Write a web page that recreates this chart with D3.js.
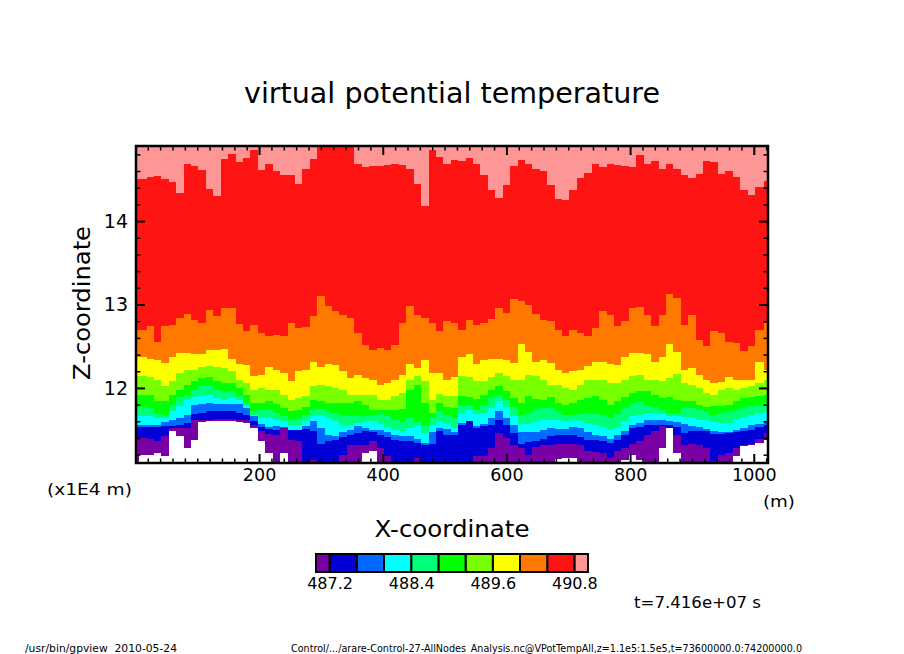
<!DOCTYPE html>
<html>
<head>
<meta charset="utf-8">
<title>virtual potential temperature</title>
<script src="https://cdn.jsdelivr.net/npm/d3@7"></script>
<style>
  html, body { margin: 0; background: #fff; }
  svg { display: block; }
  text { font-family: "DejaVu Sans", sans-serif; fill: #000; }
</style>
</head>
<body>
<svg id="chart"></svg>
<script>
// x position of each column (m)
const xColumns = [...d3.range(0, 1020, 12), 1024];

// height (x1E4 m) of each contour, one value per column
const z4908 = [
  14.51,14.51,14.53,14.54,14.51,14.47,14.34,14.68,14.66,14.61,
  14.39,14.30,14.75,14.81,14.71,14.76,14.85,14.61,14.68,14.60,
  14.55,14.55,14.45,14.63,14.74,14.90,14.95,14.95,14.95,14.95,
  14.69,14.65,14.66,14.66,14.67,14.69,14.67,14.63,14.45,14.18,
  14.85,14.77,14.69,14.73,14.72,14.76,14.69,14.55,14.37,14.28,
  14.43,14.66,14.73,14.68,14.63,14.60,14.43,14.26,14.25,14.37,
  14.52,14.58,14.69,14.65,14.69,14.67,14.66,14.65,14.79,14.68,
  14.72,14.63,14.68,14.63,14.55,14.52,14.56,14.72,14.71,14.57,
  14.60,14.53,14.37,14.31,14.41,14.48];
const z4904 = [
  12.70,12.69,12.74,12.55,12.74,12.76,12.84,12.89,12.82,12.78,
  12.93,12.86,12.96,12.96,12.77,12.68,12.75,12.66,12.62,12.63,
  12.62,12.78,12.72,12.73,12.86,13.10,12.98,12.92,12.88,12.84,
  12.66,12.52,12.46,12.48,12.46,12.52,12.78,12.98,12.88,12.84,
  12.78,12.68,12.80,12.78,12.70,12.82,12.76,12.78,12.83,12.96,
  12.90,13.07,13.04,12.99,12.89,12.82,12.80,12.70,12.62,12.70,
  12.66,12.62,12.72,12.92,12.88,12.74,12.80,12.96,12.97,12.88,
  12.74,12.88,13.12,13.08,12.76,12.88,12.57,12.50,12.68,12.66,
  12.55,12.54,12.44,12.50,12.70,12.78];
const z4900 = [
  12.37,12.37,12.35,12.33,12.30,12.37,12.42,12.42,12.41,12.41,
  12.45,12.45,12.47,12.35,12.29,12.27,12.14,12.16,12.25,12.21,
  12.18,12.08,12.20,12.22,12.31,12.25,12.29,12.27,12.20,12.12,
  12.16,12.12,12.10,12.04,12.06,12.10,12.16,12.29,12.24,12.34,
  12.18,12.18,12.10,12.13,12.37,12.41,12.29,12.33,12.35,12.35,
  12.34,12.30,12.53,12.43,12.31,12.34,12.30,12.22,12.18,12.20,
  12.22,12.26,12.31,12.31,12.29,12.27,12.37,12.42,12.42,12.41,
  12.31,12.37,12.53,12.43,12.22,12.24,12.16,12.10,12.06,12.07,
  12.13,12.09,12.10,12.10,12.31,12.22];
const z4896 = [
  12.14,12.14,12.13,12.10,12.02,12.08,12.18,12.22,12.22,12.25,
  12.26,12.25,12.24,12.20,12.10,12.06,11.98,12.00,11.98,11.97,
  11.92,11.86,11.88,11.90,12.02,12.04,12.02,12.00,11.97,11.92,
  11.92,11.92,11.92,11.86,11.86,11.90,11.94,12.10,12.14,12.08,
  11.86,11.93,11.90,11.90,12.14,12.13,12.08,12.08,12.13,12.18,
  12.14,12.10,12.10,12.16,12.14,12.10,12.04,12.04,12.00,11.98,
  12.04,12.09,12.10,12.10,12.06,12.06,12.10,12.14,12.16,12.10,
  12.09,12.08,12.12,12.17,12.06,12.04,12.00,11.94,11.92,11.97,
  12.00,11.98,12.00,12.02,12.06,12.09];
const z4892 = [
  11.92,11.92,11.92,11.84,11.84,11.92,11.98,12.04,12.08,12.12,
  12.13,12.08,12.06,12.06,12.00,11.92,11.82,11.82,11.84,11.81,
  11.76,11.72,11.73,11.77,11.86,11.84,11.82,11.82,11.82,11.82,
  11.84,11.80,11.74,11.74,11.73,11.73,11.75,11.98,12.04,11.82,
  11.70,11.82,11.77,11.76,11.90,11.89,11.87,11.92,11.97,12.02,
  11.96,11.88,11.82,11.90,11.87,11.86,11.89,11.82,11.80,11.82,
  11.86,11.88,11.90,11.86,11.80,11.84,11.89,11.94,11.96,11.96,
  11.92,11.88,11.89,11.86,11.84,11.84,11.80,11.77,11.78,11.78,
  11.80,11.84,11.88,11.89,11.90,11.92];
const z4888 = [
  11.77,11.77,11.76,11.70,11.68,11.78,11.89,11.92,11.98,12.02,
  12.04,11.98,11.96,11.96,11.90,11.82,11.72,11.73,11.73,11.70,
  11.66,11.62,11.64,11.68,11.74,11.75,11.72,11.70,11.68,11.66,
  11.66,11.66,11.68,11.69,11.66,11.62,11.60,11.64,11.60,11.54,
  11.64,11.72,11.68,11.64,11.80,11.80,11.73,11.80,11.88,11.92,
  11.86,11.77,11.68,11.70,11.73,11.76,11.76,11.71,11.68,11.68,
  11.69,11.70,11.69,11.68,11.64,11.69,11.76,11.82,11.84,11.80,
  11.77,11.73,11.70,11.70,11.77,11.76,11.73,11.71,11.68,11.70,
  11.72,11.73,11.76,11.78,11.80,11.82];
const z4884 = [
  11.66,11.66,11.66,11.64,11.64,11.72,11.78,11.86,11.89,11.90,
  11.92,11.88,11.86,11.88,11.85,11.78,11.68,11.64,11.64,11.62,
  11.60,11.55,11.56,11.60,11.66,11.68,11.64,11.60,11.55,11.56,
  11.58,11.60,11.60,11.57,11.53,11.50,11.48,11.52,11.55,11.46,
  11.56,11.59,11.57,11.52,11.70,11.73,11.69,11.70,11.76,11.84,
  11.77,11.66,11.57,11.57,11.59,11.62,11.62,11.61,11.60,11.61,
  11.60,11.58,11.56,11.53,11.49,11.52,11.60,11.66,11.68,11.70,
  11.70,11.69,11.66,11.66,11.65,11.64,11.62,11.61,11.59,11.58,
  11.58,11.61,11.64,11.68,11.70,11.71];
const z4880 = [
  11.55,11.55,11.55,11.56,11.59,11.61,11.64,11.68,11.80,11.81,
  11.82,11.81,11.81,11.81,11.81,11.76,11.66,11.57,11.53,11.54,
  11.53,11.48,11.50,11.54,11.60,11.52,11.44,11.42,11.47,11.50,
  11.54,11.52,11.50,11.49,11.47,11.44,11.42,11.42,11.39,11.34,
  11.47,11.52,11.51,11.47,11.58,11.60,11.54,11.57,11.64,11.72,
  11.64,11.55,11.47,11.47,11.47,11.50,11.52,11.51,11.51,11.53,
  11.52,11.47,11.44,11.42,11.39,11.44,11.48,11.56,11.58,11.61,
  11.62,11.62,11.60,11.59,11.57,11.54,11.53,11.51,11.48,11.47,
  11.47,11.50,11.52,11.55,11.57,11.60];
const z4876 = [
  11.53,11.53,11.53,11.53,11.54,11.54,11.55,11.58,11.69,11.70,
  11.72,11.72,11.72,11.72,11.70,11.68,11.60,11.53,11.51,11.50,
  11.50,11.50,11.50,11.51,11.48,11.33,11.36,11.38,11.41,11.43,
  11.46,11.48,11.47,11.44,11.41,11.37,11.36,11.36,11.34,11.32,
  11.33,11.48,11.44,11.44,11.56,11.60,11.52,11.54,11.55,11.62,
  11.56,11.46,11.33,11.35,11.36,11.39,11.42,11.43,11.44,11.44,
  11.41,11.38,11.37,11.36,11.34,11.37,11.44,11.52,11.53,11.55,
  11.56,11.56,11.55,11.53,11.46,11.48,11.48,11.48,11.45,11.45,
  11.46,11.47,11.48,11.50,11.53,11.56];
const z4872 = [
  11.40,11.40,11.39,11.36,11.42,11.52,11.52,11.52,11.62,11.62,
  11.62,11.63,11.63,11.63,11.62,11.61,11.55,11.48,11.45,11.44,
  11.52,11.37,11.36,11.05,11.14,11.05,11.05,11.05,11.20,11.31,
  11.32,11.31,11.36,11.28,11.18,11.05,11.05,11.05,11.16,11.05,
  11.05,11.05,11.05,11.05,11.05,11.05,11.18,11.18,11.28,11.46,
  11.40,11.32,11.28,11.19,11.29,11.31,11.31,11.33,11.33,11.33,
  11.31,11.24,11.23,11.22,11.16,11.24,11.28,11.33,11.36,11.43,
  11.48,11.54,11.52,11.44,11.31,11.33,11.32,11.28,11.12,11.19,
  11.22,11.28,11.32,11.33,11.39,11.46];
// below this height the field is under the lowest level and left blank
const zBlank = [
  11.05,11.20,11.20,11.22,11.18,11.48,11.42,11.28,11.38,11.59,
  11.60,11.60,11.60,11.60,11.59,11.58,11.52,11.36,11.22,11.05,
  11.22,11.05,11.05,11.05,11.05,11.05,11.05,11.05,11.05,11.05,
  11.05,11.22,11.24,11.05,11.05,11.05,11.05,11.05,11.05,11.05,
  11.05,11.05,11.05,11.05,11.05,11.05,11.05,11.05,11.05,11.05,
  11.05,11.05,11.05,11.05,11.05,11.05,11.05,11.15,11.16,11.16,
  11.05,11.05,11.05,11.05,11.05,11.05,11.14,11.20,11.14,11.05,
  11.05,11.28,11.52,11.22,11.05,11.05,11.05,11.05,11.05,11.05,
  11.05,11.18,11.30,11.32,11.34,11.37];

const contours = [z4908, z4904, z4900, z4896, z4892, z4888, z4884, z4880, z4876, z4872];
const bandColors = ["#ff9696", "#ff1414", "#ff7800", "#ffff00", "#78ff00", "#00ff00",
                    "#00ff78", "#00ffff", "#0069ff", "#0000d7", "#7800a5"];
const barEdges = [491, 490.8, 490.4, 490, 489.6, 489.2, 488.8, 488.4, 488, 487.6, 487.2, 487];
const barLabels = [487.2, 488.4, 489.6, 490.8];
const xTicks = [200, 400, 600, 800, 1000];
const zTicks = [12, 13, 14];

const width = 904, height = 654;
const plot = { left: 136, right: 768, top: 146, bottom: 463 };
const svg = d3.select("#chart").attr("width", width).attr("height", height);

const xScale = d3.scaleLinear().domain([1, 1023]).range([plot.left, plot.right]);
const yScale = d3.scaleLinear().domain([11.1, 14.9]).range([plot.bottom, plot.top]);

svg.append("clipPath").attr("id", "plot-clip").append("rect")
    .attr("x", plot.left).attr("y", plot.top)
    .attr("width", plot.right - plot.left).attr("height", plot.bottom - plot.top);

const field = svg.append("g").attr("clip-path", "url(#plot-clip)").attr("shape-rendering", "crispEdges");

// top band first, then each lower band painted over it
field.append("rect")
    .attr("x", plot.left).attr("y", plot.top)
    .attr("width", plot.right - plot.left).attr("height", plot.bottom - plot.top)
    .attr("fill", bandColors[0]);

const area = d3.area()
    .x((d, i) => xScale(xColumns[i]))
    .y0(plot.bottom)
    .y1(d => yScale(d))
    .curve(d3.curveStep);

contours.forEach((zs, i) => {
    field.append("path").attr("d", area(zs)).attr("fill", bandColors[i + 1]);
});
field.append("path").attr("d", area(zBlank)).attr("fill", "#fff");

// Axes: ticks point into the plot on all four sides
function drawTicks(axis, transform, values, size, labels) {
    const g = svg.append("g").attr("transform", transform)
        .call(axis.tickValues(values).tickSize(size).tickPadding(labels ? 12 : 0)
            .tickFormat(labels ? d3.format("d") : ""));
    g.select(".domain").remove();
    g.selectAll("line").attr("stroke", "#000").attr("stroke-width", size === -9 ? 2 : 1.5);
    return g;
}

const xMinor = d3.range(20, 1021, 20).filter(v => v % 200 !== 0);
const zMinor = d3.range(11.2, 14.81, 0.2).filter(v => Math.abs(v - Math.round(v)) > 0.01);

drawTicks(d3.axisBottom(xScale), `translate(0,${plot.bottom})`, xMinor, -4.5, false);
drawTicks(d3.axisTop(xScale), `translate(0,${plot.top})`, xMinor, -4.5, false);
drawTicks(d3.axisLeft(yScale), `translate(${plot.left},0)`, zMinor, -4.5, false);
drawTicks(d3.axisRight(yScale), `translate(${plot.right},0)`, zMinor, -4.5, false);

drawTicks(d3.axisTop(xScale), `translate(0,${plot.top})`, xTicks, -9, false);
drawTicks(d3.axisRight(yScale), `translate(${plot.right},0)`, zTicks, -9, false);
drawTicks(d3.axisBottom(xScale), `translate(0,${plot.bottom})`, xTicks, -9, true)
    .selectAll("text").attr("font-size", 17.5).attr("dy", "0.71em").attr("transform", "translate(0,-6)");
drawTicks(d3.axisLeft(yScale), `translate(${plot.left},0)`, zTicks, -9, true)
    .selectAll("text").attr("font-size", 19).attr("transform", "translate(4,0)");

svg.append("rect")
    .attr("x", plot.left).attr("y", plot.top)
    .attr("width", plot.right - plot.left).attr("height", plot.bottom - plot.top)
    .attr("fill", "none").attr("stroke", "#000").attr("stroke-width", 2.5);

// Colour bar
const barScale = d3.scaleLinear().domain([487, 491]).range([316, 588]);
const barTop = 554, barHeight = 18;
svg.append("g").selectAll("rect")
    .data(bandColors)
    .enter()
    .append("rect")
    .attr("x", (d, i) => barScale(barEdges[i + 1]))
    .attr("y", barTop)
    .attr("width", (d, i) => barScale(barEdges[i]) - barScale(barEdges[i + 1]))
    .attr("height", barHeight)
    .attr("fill", d => d)
    .attr("stroke", "#000")
    .attr("stroke-width", 2);

const barAxis = svg.append("g").attr("transform", `translate(0,${barTop + barHeight})`)
    .call(d3.axisBottom(barScale).tickValues(barLabels).tickSize(0).tickPadding(6).tickFormat(d3.format(".1f")));
barAxis.select(".domain").remove();
barAxis.selectAll("text").attr("font-size", 16);

// Labels
function label(str, x, y, size, length, anchor, rotate) {
    const t = svg.append("text")
        .attr("text-anchor", anchor || "start")
        .attr("font-size", size)
        .text(str);
    if (length) t.attr("textLength", length).attr("lengthAdjust", "spacingAndGlyphs");
    if (rotate) t.attr("transform", `translate(${x},${y}) rotate(-90)`);
    else t.attr("x", x).attr("y", y);
    return t;
}

label("virtual potential temperature", 452, 103, 29, 416, "middle");
label("Z-coordinate", 90, 303, 23, 154, "middle", true);
label("X-coordinate", 452, 537, 23, 155, "middle");
label("(x1E4 m)", 47, 495, 15, 85);
label("(m)", 763, 507, 15, 32);
label("t=7.416e+07 s", 634, 608, 16, 127);
label("/usr/bin/gpview  2010-05-24", 25, 652, 10, 152).attr("xml:space", "preserve").style("white-space", "pre");
label("Control/.../arare-Control-27-AllNodes_Analysis.nc@VPotTempAll,z=1.1e5:1.5e5,t=73600000.0:74200000.0", 291, 652, 10, 511);
</script>
</body>
</html>
